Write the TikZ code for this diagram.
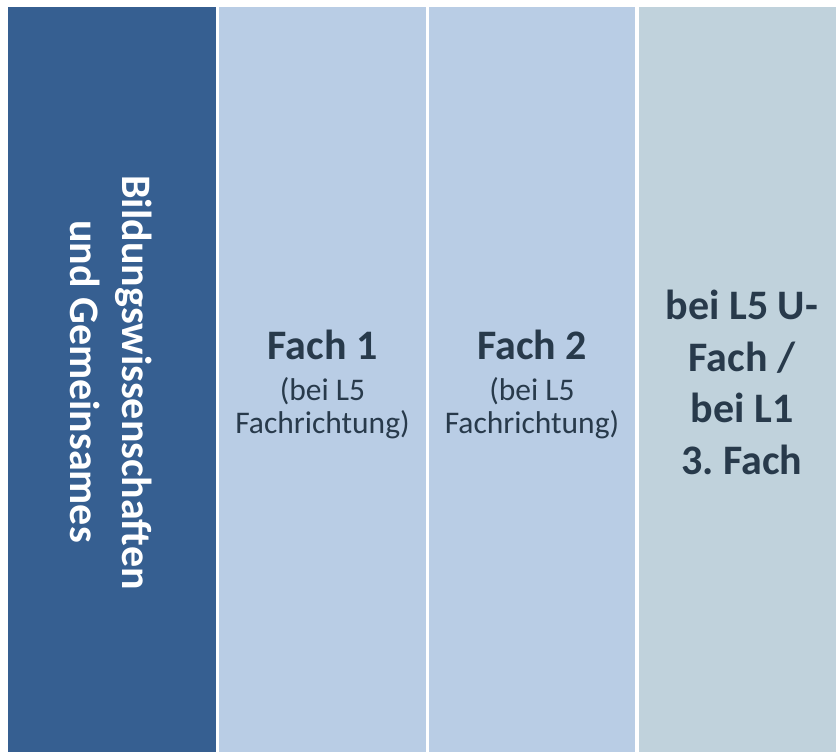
\documentclass[tikz,border=0pt]{standalone}
\usepackage{fontspec}
\setmainfont{Carlito}
\frenchspacing
\definecolor{darkcol}{RGB}{54,95,145}
\definecolor{lightcol}{RGB}{185,205,229}
\definecolor{greycol}{RGB}{192,210,220}
\definecolor{txtcol}{RGB}{40,58,75}
\tikzset{
  colbox/.style={rectangle, draw=none, inner sep=0pt, outer sep=0pt, anchor=north west, minimum height=745pt},
  bigline/.style={anchor=base, inner sep=0pt, text=txtcol, font=\fontsize{42}{50}\selectfont\bfseries},
  smallline/.style={anchor=base, inner sep=0pt, text=txtcol, font=\fontsize{31.5}{37}\selectfont},
  sideline/.style={anchor=base, inner sep=0pt, rotate=-90, text=white, font=\fontsize{42}{50}\selectfont\bfseries}
}
\begin{document}
\begin{tikzpicture}[x=1pt,y=-1pt]
\useasboundingbox[fill=white] (0,0) rectangle (836,752);
% columns
\node[colbox, fill=darkcol, minimum width=208pt] (c1) at (8,7) {};
\node[colbox, fill=lightcol, minimum width=207pt] (c2) at (219,7) {};
\node[colbox, fill=lightcol, minimum width=206pt] (c3) at (429,7) {};
\node[colbox, fill=greycol, minimum width=197pt] (c4) at (639,7) {};
% column 1
\node[sideline] (s1) at (122,382.5) {Bildungswissenschaften};
\node[sideline] (s2) at (70,381.5) {und Gemeinsames};
% column 2
\node[bigline] (f1a) at (322.5,359) {Fach 1};
\node[smallline] (f1b) at (322.5,400) {(bei L5};
\node[smallline] (f1c) at (322.5,433) {Fachrichtung)};
% column 3
\node[bigline] (f2a) at (532,359) {Fach 2};
\node[smallline] (f2b) at (532,400) {(bei L5};
\node[smallline] (f2c) at (532,433) {Fachrichtung)};
% column 4
\node[bigline] (u1) at (742,319.5) {bei L5 U-};
\node[bigline] (u2) at (742,371) {Fach /};
\node[bigline] (u3) at (742,422.5) {bei L1};
\node[bigline] (u4) at (742,474) {3. Fach};
\end{tikzpicture}
\end{document}
